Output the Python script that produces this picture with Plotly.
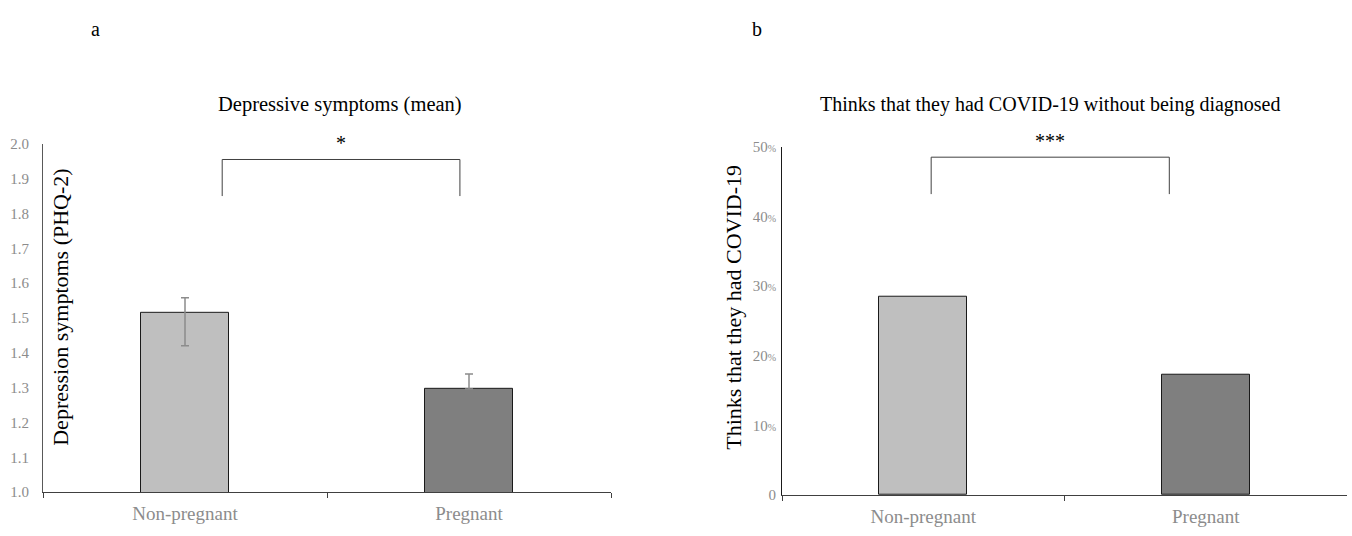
import plotly.graph_objects as go

# ---------------- data ----------------
categories = ["Non-pregnant", "Pregnant"]
phq2_means = [1.516, 1.296]
phq2_err_plus = [0.042, 0.043]
phq2_err_minus = [0.096, 0.0]
covid_pct = [28.5, 17.3]
bar_colors = ["#bfbfbf", "#7f7f7f"]

left_yticks = [1.0, 1.1, 1.2, 1.3, 1.4, 1.5, 1.6, 1.7, 1.8, 1.9, 2.0]
left_yticktext = ["1.0", "1.1", "1.2", "1.3", "1.4", "1.5", "1.6", "1.7", "1.8", "1.9", "2.0"]
right_yticks = [0, 10, 20, 30, 40, 50]
right_ytick_numbers = ["0", "10", "20", "30", "40", "50"]

left_title = "Depressive symptoms (mean)"
right_title = "Thinks that they had COVID-19 without being diagnosed"
left_ytitle = "Depression symptoms (PHQ-2)"
right_ytitle = "Thinks that they had COVID-19"
left_sig = "*"
right_sig = "***"

# ---------------- layout helpers ----------------
W, H = 1352, 536
FONT = "Liberation Serif, Times New Roman, serif"
TICK_GRAY = "#8c8c8c"
AXIS = "#404040"


def px_x(x):
    return x / W


def px_y(y):
    return (H - y) / H


right_yticktext = [
    n if n == "0" else n + "<span style='font-size:10px'>%</span>" for n in right_ytick_numbers
]

fig = go.Figure()

fig.add_trace(go.Bar(
    x=categories, y=phq2_means, width=0.31,
    marker=dict(color=bar_colors, line=dict(color="#1a1a1a", width=1)),
    error_y=dict(type="data", symmetric=False, array=phq2_err_plus,
                 arrayminus=phq2_err_minus, color="#8c8c8c", thickness=1.5, width=4),
    xaxis="x", yaxis="y", showlegend=False, hoverinfo="x+y",
))

fig.add_trace(go.Bar(
    x=categories, y=covid_pct, width=0.31,
    marker=dict(color=bar_colors, line=dict(color="#1a1a1a", width=1)),
    xaxis="x2", yaxis="y2", showlegend=False, hoverinfo="x+y",
))

xaxis_common = dict(
    range=[-0.5, 1.5], showline=True, linecolor=AXIS, linewidth=1,
    ticks="outside", tickson="boundaries", ticklen=5, tickcolor=AXIS, tickwidth=1,
    tickfont=dict(family=FONT, size=19, color=TICK_GRAY), ticklabelstandoff=4,
    showgrid=False, zeroline=False, fixedrange=True,
)
yaxis_common = dict(
    showline=True, linewidth=1, ticks="", showgrid=False, zeroline=False,
    tickfont=dict(family=FONT, size=15, color=TICK_GRAY),
    fixedrange=True,
)

fig.update_layout(
    width=W, height=H,
    margin=dict(l=0, r=0, t=0, b=0),
    paper_bgcolor="white", plot_bgcolor="white",
    bargap=0,
    xaxis=dict(domain=[px_x(43), px_x(611)], anchor="y", **xaxis_common),
    yaxis=dict(domain=[px_y(499), px_y(140)], anchor="x", range=[1.0, 2.0],
               tickvals=left_yticks, ticktext=left_yticktext, linecolor="#595959",
               ticklabelstandoff=10, **yaxis_common),
    xaxis2=dict(domain=[px_x(782), px_x(1347)], anchor="y2", **xaxis_common),
    yaxis2=dict(domain=[px_y(502), px_y(143)], anchor="x2", range=[0, 50],
                tickvals=right_yticks, ticktext=right_yticktext, linecolor="#1a1a1a",
                ticklabelstandoff=2, **yaxis_common),
)

# significance brackets (annotation graphics, not data)
brackets = [
    dict(xref="x", yref="y", x0=0.131, x1=0.968, ytop=1.955, ybot=1.85),
    dict(xref="x2", yref="y2", x0=0.028, x1=0.871, ytop=48.5, ybot=43.2),
]
shapes = []
for b in brackets:
    shapes.append(dict(
        type="path", xref=b["xref"], yref=b["yref"],
        path=f"M {b['x0']},{b['ybot']} L {b['x0']},{b['ytop']} L {b['x1']},{b['ytop']} L {b['x1']},{b['ybot']}",
        line=dict(color=AXIS, width=1),
    ))
fig.update_layout(shapes=shapes)


def ann(text, x, y, size, xref="paper", yref="paper", **kw):
    d = dict(text=text, xref=xref, yref=yref, x=x, y=y, showarrow=False,
             xanchor="center", yanchor="middle",
             font=dict(family=FONT, size=size, color="black"))
    d.update(kw)
    return d


annotations = [
    ann("a", px_x(95), px_y(22), 20),
    ann("b", px_x(757), px_y(22), 20),
    ann(left_title, px_x(340), px_y(99), 20.5),
    ann(right_title, px_x(1050), px_y(99), 20),
    ann(left_ytitle, px_x(61), px_y(309), 22, textangle=-90),
    ann(right_ytitle, px_x(734), px_y(309), 22, textangle=-90),
    ann(left_sig, (0.131 + 0.968) / 2, 1.955, 20, xref="x", yref="y",
        yanchor="bottom", yshift=3),
    ann(right_sig, (0.028 + 0.871) / 2, 48.5, 20, xref="x2", yref="y2",
        yanchor="bottom", yshift=3),
]
fig.update_layout(annotations=annotations)

fig.write_html("out.html", config={"displayModeBar": False},
               post_script="document.body.style.margin='0';")
